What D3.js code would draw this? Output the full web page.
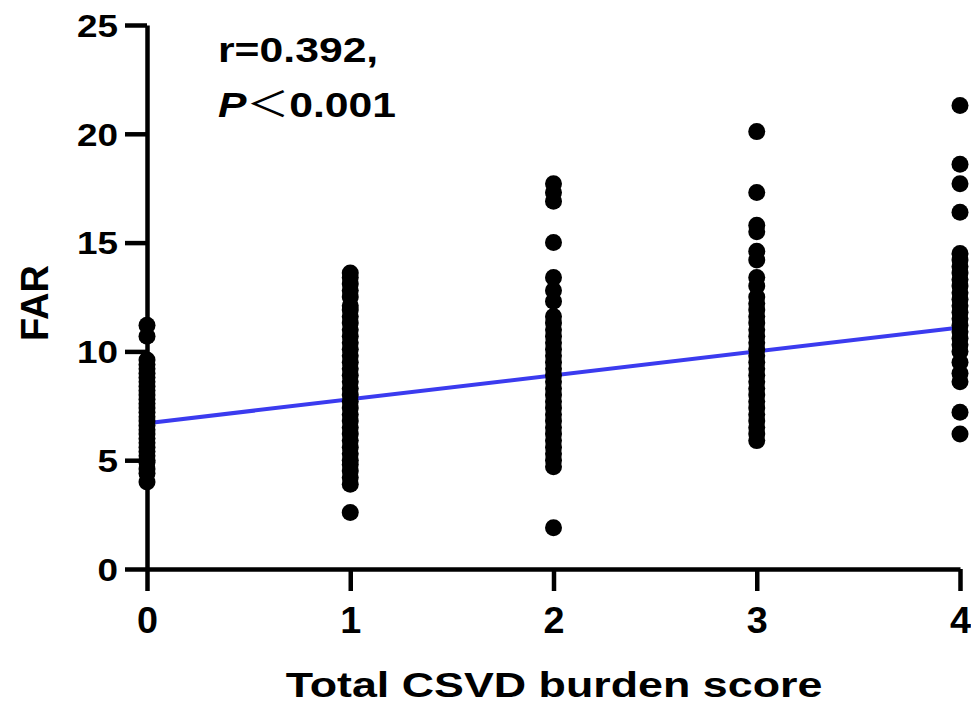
<!DOCTYPE html>
<html>
<head>
<meta charset="utf-8">
<script src="https://cdn.jsdelivr.net/npm/d3@7"></script>
<style>
body { margin: 0; background: #fff; }
svg text { font-family: "Liberation Sans", Arial, "Noto Sans CJK SC", sans-serif; font-weight: bold; }
</style>
</head>
<body>
<svg id="svg_canvas" width="971" height="706"></svg>
<script>
// FAR values per total CSVD burden score
var score0 = [11.2, 10.7, 9.6, 9.4, 9.2, 9.0, 8.8, 8.6, 8.4, 8.2, 8.0, 7.8, 7.6, 7.4, 7.2, 7.0,
	6.8, 6.6, 6.4, 6.2, 6.0, 5.8, 5.6, 5.4, 5.2, 5.0, 4.9, 4.6, 4.4, 4.0];
var score1 = [13.6, 13.4, 13.1, 12.8, 12.5, 12.1, 11.9, 11.6, 11.3, 11.0, 10.7, 10.4, 10.1, 9.8,
	9.5, 9.2, 8.9, 8.6, 8.3, 8.0, 7.7, 7.4, 7.1, 6.8, 6.5, 6.2, 5.9, 5.6, 5.3, 5.0, 4.8, 4.5,
	4.2, 3.9, 2.6];
var score2 = [17.7, 17.3, 16.9, 15.0, 13.4, 12.8, 12.3, 11.6, 11.3, 11.0, 10.7, 10.4, 10.1, 9.8,
	9.5, 9.2, 8.9, 8.6, 8.3, 8.0, 7.7, 7.4, 7.1, 6.8, 6.5, 6.2, 5.9, 5.6, 5.3, 5.0, 4.7, 1.9];
var score3 = [20.1, 17.3, 15.8, 15.5, 14.6, 14.2, 13.4, 13.0, 12.5, 12.2, 11.9, 11.6, 11.3, 11.0,
	10.7, 10.4, 10.1, 9.8, 9.5, 9.2, 8.9, 8.6, 8.3, 8.0, 7.7, 7.4, 7.1, 6.8, 6.5, 6.2, 5.9];
var score4 = [21.3, 18.6, 17.7, 16.4, 14.5, 14.2, 13.9, 13.6, 13.3, 13.0, 12.7, 12.4, 12.1, 11.8,
	11.5, 11.2, 10.9, 10.6, 10.3, 10.0, 9.5, 9.0, 8.6, 7.2, 6.2];
var groups = [score0, score1, score2, score3, score4];

// fitted line
var fitIntercept = 6.7;
var fitSlope = 1.1;

var xTicks = [0, 1, 2, 3, 4];
var yTicks = [0, 5, 10, 15, 20, 25];

var svgElement = d3.select("svg");

var x = d3.scaleLinear().domain([0, 4]).range([147, 960]);
var y = d3.scaleLinear().domain([0, 25]).range([569, 25]);

// regression line, under the dots
svgElement.append("line")
	.attr("x1", x(0))
	.attr("y1", y(fitIntercept))
	.attr("x2", x(4))
	.attr("y2", y(fitIntercept + fitSlope * 4))
	.attr("stroke", "#3b3bef")
	.attr("stroke-width", 4);

// points
var points = [];
for (var i = 0; i < groups.length; i++) {
	for (var j = 0; j < groups[i].length; j++) {
		points.push({score: i, far: groups[i][j]});
	}
}
svgElement.selectAll("circle.pt")
	.data(points)
	.enter().append("circle")
	.attr("class", "pt")
	.attr("cx", function(d) { return x(d.score); })
	.attr("cy", function(d) { return y(d.far); })
	.attr("r", 8.5)
	.style("fill", "#000");

// axes
var yAxis = svgElement.append("g")
	.attr("transform", "translate(" + x(0) + ",0)")
	.call(d3.axisLeft(y).tickValues(yTicks).tickFormat(d3.format("d"))
		.tickSize(22).tickSizeOuter(0).tickPadding(7));
var xAxis = svgElement.append("g")
	.attr("transform", "translate(0," + y(0) + ")")
	.call(d3.axisBottom(x).tickValues(xTicks).tickFormat(d3.format("d"))
		.tickSize(22).tickSizeOuter(0).tickPadding(16));

[yAxis, xAxis].forEach(function(g) {
	g.selectAll("path, line").attr("stroke", "#000").attr("stroke-width", 4.5);
	g.selectAll("text").attr("fill", "#000");
});
yAxis.selectAll("text").style("font-size", "32px").attr("dy", "0.35em")
	.attr("textLength", function(d) { return String(d).length * 20.5; })
	.attr("lengthAdjust", "spacingAndGlyphs");
xAxis.selectAll("text").style("font-size", "37px")
	.attr("textLength", 21)
	.attr("lengthAdjust", "spacingAndGlyphs");

// axis titles
svgElement.append("text")
	.attr("transform", "translate(554,697) scale(1.28,1)")
	.attr("text-anchor", "middle")
	.style("font-size", "35px")
	.text("Total CSVD burden score");

svgElement.append("text")
	.attr("transform", "translate(48,303) rotate(-90)")
	.attr("text-anchor", "middle")
	.style("font-size", "38px")
	.text("FAR");

// annotation
svgElement.append("text")
	.attr("transform", "translate(218,62) scale(1.22,1)")
	.style("font-size", "35px")
	.text("r=0.392,");

var pText = svgElement.append("text")
	.attr("transform", "translate(218,117) scale(1.22,1)")
	.style("font-size", "35px");
pText.append("tspan").style("font-style", "italic").text("P");
pText.append("tspan").style("font-weight", "normal").text("＜");
pText.append("tspan").text("0.001");
</script>
</body>
</html>
